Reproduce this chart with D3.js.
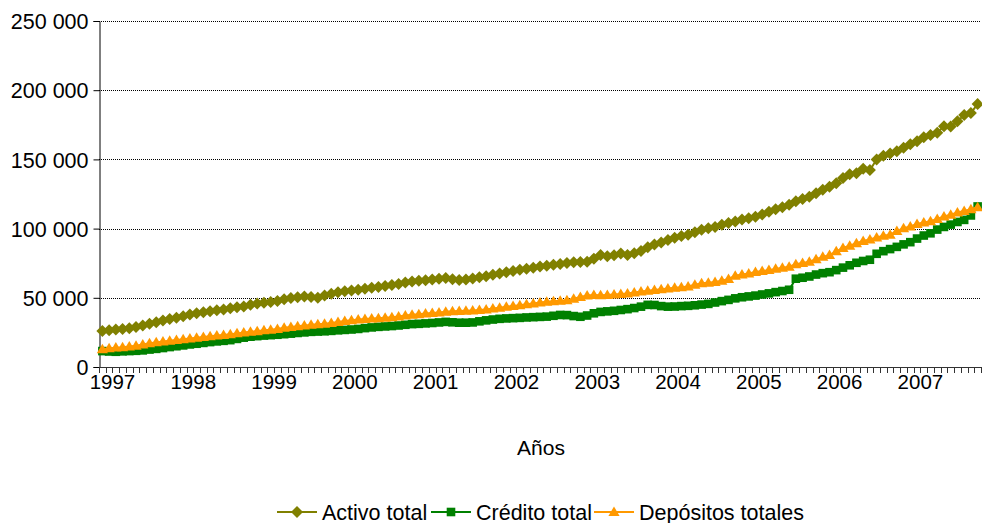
<!DOCTYPE html>
<html lang="es">
<head>
<meta charset="utf-8">
<script src="https://cdn.jsdelivr.net/npm/d3@7/dist/d3.min.js"></script>
<style>
  html, body { margin: 0; padding: 0; background: #fff; }
  svg { display: block; font-family: "Liberation Sans", Arial, sans-serif; }
</style>
</head>
<body>
<svg id="chart" width="982" height="523"></svg>
<script>
// Monthly series, Nov 1996 – Sep 2007 (values in units)
const firstMonth = new Date(1996, 10, 1);
const endMonth = new Date(2007, 9, 1);
const months = d3.timeMonth.range(firstMonth, endMonth);

const activoTotal = [
  26.0, 26.6, 27.1, 27.5, 28.0, 28.9, 29.9, 31.2, 32.4, 33.6, 34.6, 35.5,
  36.7, 38.0, 38.9, 39.6, 40.2, 41.0, 41.6, 42.5, 43.1, 43.8, 44.9, 45.8,
  46.5, 47.0, 47.6, 49.0, 49.9, 50.4, 50.9, 50.5, 50.0, 51.6, 53.0, 54.0,
  54.8, 55.3, 55.8, 56.6, 57.3, 57.8, 58.5, 59.2, 60.0, 61.0, 61.8, 62.3,
  62.7, 63.3, 63.7, 64.3, 63.4, 62.8, 63.3, 64.0, 64.8, 65.6, 66.7, 67.6,
  68.5, 69.3, 70.2, 71.0, 71.8, 72.6, 73.1, 73.8, 74.5, 75.2, 75.6, 75.9,
  76.1, 78.3, 80.9, 80.0, 80.8, 82.0, 81.0, 82.2, 83.9, 86.5, 88.6, 90.0,
  91.8, 93.3, 94.6, 95.6, 97.4, 99.2, 100.2, 101.1, 102.7, 104.1, 105.2, 106.6,
  107.4, 108.6, 110.2, 112.2, 114.0, 115.5, 117.2, 119.8, 121.4, 123.0, 125.5, 128.0,
  130.3, 132.8, 136.5, 139.3, 140.0, 143.3, 142.3, 150.0, 152.6, 154.2, 155.8, 158.4,
  161.0, 163.2, 166.0, 167.6, 169.3, 174.0, 173.8, 177.5, 182.0, 183.6, 190.0
].map(v => v * 1000);

const creditoTotal = [
  11.5, 11.2, 11.0, 11.3, 11.5, 11.7, 12.0, 12.6, 13.1, 13.7, 14.4, 15.0,
  15.6, 16.3, 16.8, 17.4, 18.0, 18.5, 18.9, 19.4, 20.3, 21.2, 21.9, 22.3,
  22.7, 23.0, 23.3, 23.7, 24.1, 24.6, 25.0, 25.4, 25.6, 25.8, 26.1, 26.5,
  26.8, 27.1, 27.5, 28.1, 28.6, 29.0, 29.3, 29.6, 30.0, 30.5, 31.0, 31.2,
  31.5, 31.8, 32.2, 32.6, 32.3, 32.0, 32.0, 32.2, 33.0, 33.7, 34.3, 34.8,
  35.1, 35.3, 35.5, 35.8, 36.0, 36.2, 36.4, 37.0, 37.6, 37.5, 36.8, 36.3,
  37.2, 38.8, 39.8, 40.2, 40.6, 41.2, 41.8, 42.6, 43.6, 44.9, 44.8, 44.0,
  43.6, 43.7, 44.0, 44.2, 44.6, 45.1, 45.6, 46.6, 47.6, 48.5, 49.6, 50.4,
  51.0, 51.6, 52.4, 53.2, 54.1, 54.9, 55.8, 63.8, 64.5, 65.4, 66.8, 67.8,
  68.5, 70.0, 71.8, 73.5, 75.3, 76.6, 77.5, 81.8, 83.7, 85.2, 86.8, 88.6,
  90.2, 92.8, 95.0, 96.6, 99.3, 101.2, 102.9, 104.8, 106.3, 109.5, 116.0
].map(v => v * 1000);

const depositosTotales = [
  12.8, 13.5, 14.0, 14.3, 14.8, 15.4, 16.2, 17.1, 17.8, 18.4, 18.9, 19.5,
  20.1, 20.6, 21.1, 21.6, 22.2, 22.7, 23.2, 23.7, 24.3, 25.0, 25.4, 25.9,
  26.6, 27.0, 27.5, 28.3, 28.9, 29.5, 29.9, 30.6, 30.9, 31.3, 31.8, 32.6,
  33.2, 33.8, 34.3, 34.6, 35.0, 35.3, 35.6, 35.9, 36.5, 37.3, 37.8, 38.1,
  38.6, 39.0, 39.4, 39.9, 40.2, 40.4, 40.7, 40.9, 41.2, 41.6, 42.3, 42.9,
  43.5, 44.1, 44.6, 45.3, 45.9, 46.6, 47.1, 47.5, 47.9, 48.3, 49.4, 50.6,
  51.6, 52.0, 51.8, 52.0, 52.3, 52.7, 53.1, 53.9, 54.5, 55.1, 55.6, 56.2,
  56.8, 57.2, 57.7, 58.2, 59.5, 60.5, 60.9, 61.4, 62.3, 63.6, 66.0, 66.9,
  67.6, 68.6, 69.3, 70.0, 70.9, 71.7, 72.5, 74.2, 75.2, 76.1, 77.9, 79.6,
  80.9, 83.6, 86.0, 87.6, 89.5, 91.0, 92.2, 93.6, 94.8, 95.6, 98.2, 100.3,
  101.5, 103.4, 104.4, 105.3, 107.0, 108.7, 110.0, 111.6, 112.8, 114.0, 115.5
].map(v => v * 1000);

const yTicks = [0, 50000, 100000, 150000, 200000, 250000];
const yearLabels = ["1997", "1998", "1999", "2000", "2001", "2002", "2003", "2004", "2005", "2006", "2007"];
const seriesNames = ["Activo total", "Crédito total", "Depósitos totales"];
const seriesColors = ["#808000", "#008000", "#FF9900"];
const xTitle = "Años";

// Marker shapes per series
const markerPaths = [
  "M0,-6L6,0L0,6L-6,0Z",                   // diamond
  "M-4.3,-4.3H4.3V4.3H-4.3Z",              // square
  "M0,-5.5L5.6,4L-5.6,4Z"                  // triangle
];

const svg = d3.select("#chart");
svg.append("rect").attr("width", 982).attr("height", 523).attr("fill", "#fff");

const plot = { left: 99, right: 981, top: 21, bottom: 367 };

const x = d3.scaleBand()
  .domain(months.map(d => +d))
  .range([plot.left, plot.right])
  .paddingInner(0).paddingOuter(0);

const y = d3.scaleLinear()
  .domain([0, 250000])
  .range([plot.bottom, plot.top]);

const locale = d3.formatLocale({ decimal: ",", thousands: " ", grouping: [3], currency: ["", ""] });
const fmt = locale.format(",d");

// Horizontal grid lines
svg.append("g")
  .selectAll("line")
  .data(yTicks.filter(v => v > 0))
  .join("line")
  .attr("x1", plot.left).attr("x2", plot.right)
  .attr("y1", d => Math.round(y(d)) + 0.5).attr("y2", d => Math.round(y(d)) + 0.5)
  .attr("stroke", "#000")
  .attr("stroke-width", 1)
  .attr("stroke-dasharray", "1,1");

// Y axis
const yAxis = svg.append("g")
  .attr("transform", `translate(${plot.left + 0.5},0)`)
  .call(d3.axisLeft(y).tickValues(yTicks).tickFormat(fmt).tickSize(6).tickPadding(5));
yAxis.select(".domain").attr("stroke", "#000");
yAxis.selectAll(".tick line").attr("stroke", "#000");
yAxis.selectAll(".tick text")
  .attr("font-size", 21.5)
  .attr("font-family", "Liberation Sans, Arial, sans-serif")
  .attr("fill", "#000")
  .attr("dy", "0.36em");

// X axis: tick marks on every month boundary
const bw = x.bandwidth();
const boundaries = months.map(d => x(+d)).concat([x(+months[months.length - 1]) + bw]);
const xAxisG = svg.append("g");
xAxisG.append("line")
  .attr("x1", plot.left).attr("x2", plot.right)
  .attr("y1", plot.bottom + 0.5).attr("y2", plot.bottom + 0.5)
  .attr("stroke", "#333");
xAxisG.selectAll("line.tk")
  .data(boundaries)
  .join("line")
  .attr("class", "tk")
  .attr("x1", d => Math.round(d) + 0.5).attr("x2", d => Math.round(d) + 0.5)
  .attr("y1", plot.bottom).attr("y2", plot.bottom + 6)
  .attr("stroke", "#333");

// Year labels at January boundaries
const januaries = months.filter(d => d.getMonth() === 0);
xAxisG.selectAll("text")
  .data(januaries)
  .join("text")
  .attr("x", d => x(+d))
  .attr("y", 389)
  .attr("text-anchor", "middle")
  .attr("font-size", 20.5)
  .attr("fill", "#000")
  .text((d, i) => yearLabels[i]);

// X axis title
svg.append("text")
  .attr("x", (plot.left + plot.right) / 2 + 1)
  .attr("y", 455)
  .attr("text-anchor", "middle")
  .attr("font-size", 21)
  .attr("fill", "#000")
  .text(xTitle);

// Series lines and markers
const allSeries = [activoTotal, creditoTotal, depositosTotales];
const line = d3.line()
  .x((d, i) => x(+months[i]) + bw / 2)
  .y(d => y(d));

allSeries.forEach((values, s) => {
  const g = svg.append("g");
  g.append("path")
    .datum(values)
    .attr("d", line)
    .attr("fill", "none")
    .attr("stroke", seriesColors[s])
    .attr("stroke-width", 2);
  g.selectAll("path.mk")
    .data(values)
    .join("path")
    .attr("class", "mk")
    .attr("d", markerPaths[s])
    .attr("transform", (d, i) => `translate(${x(+months[i]) + bw / 2},${y(d)})`)
    .attr("fill", seriesColors[s]);
});

// Legend
const legendItems = [
  { lineX: 277, textX: 322 },
  { lineX: 431, textX: 476 },
  { lineX: 594, textX: 639 }
];
const legendY = 512;
const legend = svg.append("g");
legendItems.forEach((it, s) => {
  legend.append("line")
    .attr("x1", it.lineX).attr("x2", it.lineX + 40)
    .attr("y1", legendY).attr("y2", legendY)
    .attr("stroke", seriesColors[s])
    .attr("stroke-width", 2);
  legend.append("path")
    .attr("d", markerPaths[s])
    .attr("transform", `translate(${it.lineX + 20},${legendY})`)
    .attr("fill", seriesColors[s]);
  legend.append("text")
    .attr("x", it.textX)
    .attr("y", legendY + 7.5)
    .attr("font-size", 21.5)
    .attr("fill", "#000")
    .text(seriesNames[s]);
});
</script>
</body>
</html>
